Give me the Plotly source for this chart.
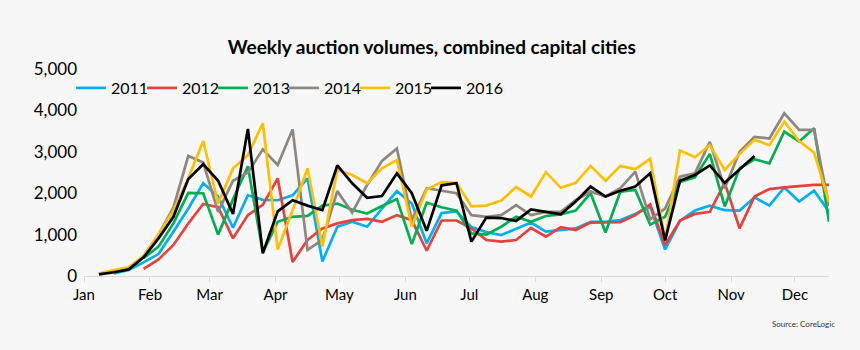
import plotly.graph_objects as go

# ---- data (weekly auction volumes, week index 1..50) ----
weeks = list(range(1, 51))
month_labels = ["Jan", "Feb", "Mar", "Apr", "May", "Jun", "Jul", "Aug", "Sep", "Oct", "Nov", "Dec"]
month_start_days = [0, 31, 59, 90, 120, 151, 181, 212, 243, 273, 304, 334]
y_ticks = [0, 1000, 2000, 3000, 4000, 5000]

v2011 = [None, 60, 145, 330, 530, 1070, 1630, 2240, 1920, 1170,
         1950, 1840, 1830, 1950, 2360, 350, 1190, 1310, 1190, 1630,
         2050, 1750, 790, 1520, 1560, 1180, 1060, 990, 1140, 1290,
         1070, 1110, 1150, 1310, 1310, 1350, 1500, 1680, 640, 1330,
         1580, 1700, 1590, 1580, 1900, 1700, 2140, 1800, 2060, 1550]
v2012 = [None, None, None, 170, 400, 750, 1270, 1740, 1660, 910,
         1470, 1720, 2360, 340, 870, 1150, 1270, 1350, 1380, 1310,
         1470, 1350, 610, 1340, 1340, 1150, 870, 830, 870, 1160,
         950, 1180, 1110, 1290, 1290, 1300, 1470, 1730, 750, 1340,
         1500, 1550, 2250, 1150, 1920, 2100, 2140, 2170, 2200, 2200]
v2013 = [None, None, None, 430, 710, 1270, 2010, 2000, 1000, 1850,
         2650, 570, 1310, 1430, 1450, 1700, 1750, 1600, 1510, 1690,
         1860, 770, 1770, 1660, 1580, 1030, 1000, 1190, 1430, 1310,
         1450, 1490, 1580, 2000, 1050, 2040, 2080, 1240, 1430, 2270,
         2380, 2950, 1680, 2600, 2820, 2720, 3490, 3250, 3570, 1310]
v2014 = [50, 120, 190, 470, 1000, 1650, 2900, 2740, 1550, 2300,
         2500, 3060, 2680, 3540, 630, 870, 2050, 1530, 2200, 2780,
         3080, 1350, 2120, 2060, 2000, 1470, 1430, 1470, 1710, 1470,
         1550, 1550, 1830, 2040, 1920, 2120, 2520, 1370, 1630, 2400,
         2480, 3240, 2120, 3000, 3360, 3320, 3930, 3530, 3530, 1690]
v2015 = [60, 145, 210, 490, 1010, 1580, 2360, 3260, 1750, 2600,
         2920, 3690, 640, 1590, 2600, 720, 2560, 2440, 2240, 2600,
         2800, 1190, 2090, 2270, 2250, 1680, 1700, 1820, 2150, 1920,
         2510, 2130, 2250, 2660, 2300, 2660, 2580, 2830, 870, 3030,
         2870, 3160, 2560, 2950, 3290, 3160, 3730, 3260, 2980, 1790]
v2016 = [40, 90, 160, 450, 910, 1430, 2340, 2700, 2300, 1500,
         3550, 550, 1560, 1830, 1700, 1590, 2670, 2240, 1890, 1930,
         2480, 2000, 1090, 2190, 2240, 830, 1410, 1400, 1330, 1610,
         1550, 1490, 1800, 2160, 1920, 2060, 2160, 2480, 860, 2300,
         2440, 2670, 2250, 2580, 2900]

series = [
    ("2011", v2011, "#00b0f0"),
    ("2012", v2012, "#e8413c"),
    ("2013", v2013, "#00b050"),
    ("2014", v2014, "#8f867e"),
    ("2015", v2015, "#ffc000"),
    ("2016", v2016, "#000000"),
]

FONT = "Lato"
PLOT_L, PLOT_W, PLOT_B, PLOT_H = 84, 745, 276, 207

fig = go.Figure()
legend_layout = {}
for i, (name, vals, color) in enumerate(series):
    days = [7 * w for w in weeks[:len(vals)]]
    lg = "legend" if i == 0 else f"legend{i + 1}"
    fig.add_trace(go.Scatter(
        x=days, y=vals, name=name, mode="lines", legend=lg,
        line=dict(color=color, width=2.7), connectgaps=False,
    ))
    box_left = 71 + 71 * i
    legend_layout[lg] = dict(
        orientation="h", x=(box_left - PLOT_L) / PLOT_W, xanchor="left",
        y=(PLOT_B - 88) / PLOT_H, yanchor="middle",
        font=dict(family=FONT, size=16, color="#000000"),
        bgcolor="rgba(0,0,0,0)", itemwidth=30,
    )

fig.update_layout(
    width=860, height=350,
    paper_bgcolor="#f7f7f7", plot_bgcolor="#f7f7f7",
    margin=dict(l=84, r=31, t=69, b=74, autoexpand=False),
    font=dict(family=FONT, color="#000000"),
    title=dict(text="<b>Weekly auction volumes, combined capital cities</b>",
               x=0.502, xanchor="center", y=1 - 47 / 350, yanchor="middle",
               font=dict(family=FONT, size=19, color="#000000")),
    showlegend=True,
    xaxis=dict(range=[0, 350], tickvals=month_start_days, ticktext=month_labels,
               showgrid=False, zeroline=False, showline=True,
               linecolor="#d9d9d9", linewidth=1,
               ticks="outside", ticklen=5, tickcolor="#d9d9d9",
               tickfont=dict(family=FONT, size=15, color="#000000")),
    yaxis=dict(range=[0, 5000], tickvals=y_ticks, tickformat=",d",
               showgrid=False, zeroline=False, showline=False, ticks="",
               ticklabelstandoff=6,
               tickfont=dict(family=FONT, size=17, color="#000000")),
    **legend_layout,
)

fig.add_annotation(text="Source: CoreLogic", xref="paper", yref="paper",
                   x=(803 - PLOT_L) / PLOT_W, y=(PLOT_B - 324) / PLOT_H,
                   xanchor="center", yanchor="middle", showarrow=False,
                   font=dict(family=FONT, size=8, color="#333333"))

fig.write_html("out.html")
